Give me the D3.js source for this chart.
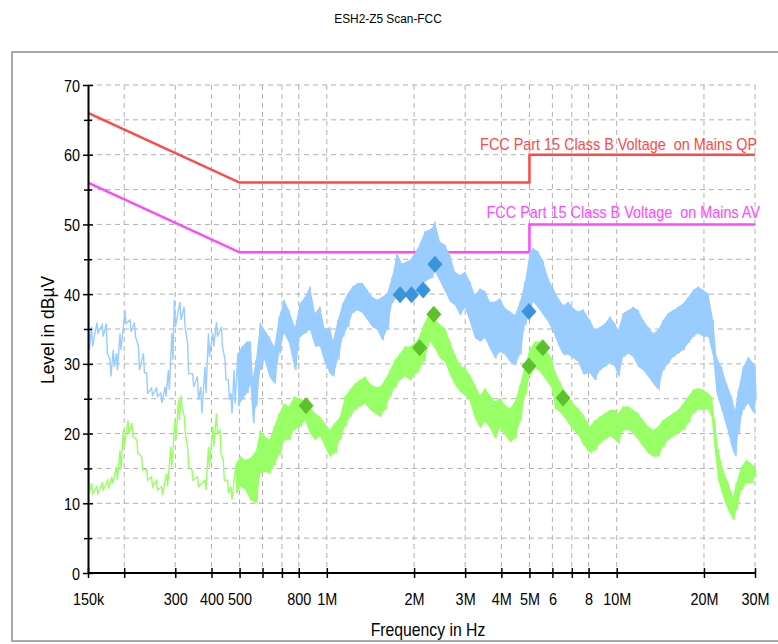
<!DOCTYPE html>
<html>
<head>
<meta charset="utf-8">
<script src="https://cdn.jsdelivr.net/npm/d3@7/dist/d3.min.js"></script>
<style>
body { margin: 0; background: #fff; }
text { font-family: "Liberation Sans", Arial, sans-serif; }
</style>
</head>
<body>
<svg id="chart"></svg>
<script>
var w = 778
var h = 644

// axis ticks (MHz)
var xTicks = [0.15, 0.2, 0.3, 0.4, 0.5, 0.6, 0.7, 0.8, 1, 2, 3, 4, 5, 6, 7, 8, 10, 20, 30]
var xTickLabels = ["150k", "", "300", "400", "500", "", "", "800", "1M", "2M", "3M", "4M", "5M", "6", "", "8", "10M", "20M", "30M"]
var yTicks = [0, 5, 10, 15, 20, 25, 30, 35, 40, 45, 50, 55, 60, 65, 70]

// limit lines
var limitFreq = [0.15, 0.5, 5, 5, 30]
var qpLimit = [66, 56, 56, 60, 60]
var avLimit = [56, 46, 46, 50, 50]

// peak trace (blue), min / max per sample
var peakFreq = [0.1504, 0.1544, 0.161, 0.168, 0.1735, 0.1786, 0.1833, 0.188, 0.1934, 0.2013, 0.2094, 0.217, 0.224, 0.233, 0.239, 0.2485, 0.2585, 0.2675, 0.2766, 0.284, 0.292, 0.298, 0.3115, 0.3217, 0.331, 0.3445, 0.358, 0.3676, 0.38, 0.3905, 0.404, 0.416, 0.433, 0.4453, 0.4575, 0.467, 0.4785, 0.4935, 0.51, 0.5305, 0.545, 0.556, 0.5693, 0.5893, 0.6094, 0.6333, 0.6584, 0.685, 0.712, 0.7405, 0.776, 0.808, 0.841, 0.875, 0.91, 0.947, 0.985, 1.024, 1.05, 1.092, 1.135, 1.18, 1.227, 1.276, 1.327, 1.38, 1.435, 1.492, 1.552, 1.614, 1.679, 1.746, 1.816, 1.936, 2.055, 2.181, 2.3, 2.361, 2.457, 2.556, 2.66, 2.768, 2.88, 2.996, 3.117, 3.243, 3.375, 3.512, 3.654, 3.801, 3.955, 4.116, 4.284, 4.457, 4.638, 4.825, 5.02, 5.15, 5.36, 5.58, 5.8, 6.04, 6.29, 6.54, 6.81, 7.08, 7.37, 7.67, 8.085, 8.41, 8.75, 9.11, 9.48, 9.86, 10.12, 10.53, 10.96, 11.4, 11.86, 12.34, 12.84, 13.36, 13.9, 14.46, 15.05, 15.66, 16.3, 16.96, 17.65, 18.36, 19.1, 19.88, 20.68, 21.52, 22.1, 23.0, 23.94, 24.9, 25.6, 26.27, 27.3, 28.45, 29.6, 30]
var peakHi = [41.3, 35.3, 35.9, 35.6, 35.8, 30.6, 32, 31.5, 34.4, 37.7, 36.3, 35.9, 32.5, 31.5, 28.7, 26.5, 26.5, 25.8, 26.7, 29.1, 34.4, 39.2, 38.9, 38.2, 32.9, 28.6, 28.2, 26.7, 29.6, 34.4, 34.4, 36, 35.3, 30.6, 27.7, 25.8, 29.1, 31.5, 32.5, 33.2, 33.2, 28, 30.6, 35.9, 34.9, 33.9, 32.5, 36.8, 39.2, 37.7, 35.3, 38.7, 39.6, 41.1, 37.3, 38.2, 34.9, 35.3, 33.4, 36.3, 38.7, 40.1, 41.1, 41.6, 41.6, 40.6, 39.6, 39.2, 39.6, 40.1, 42.5, 45.9, 44.4, 44.9, 46.5, 49, 49.4, 50.4, 47.5, 47.1, 45.6, 43.2, 42.7, 43.2, 41.8, 39.9, 40.8, 40.4, 38.9, 38.9, 39.4, 38, 37.5, 37, 38.9, 41.8, 46.1, 46.6, 46.1, 44.7, 42.3, 40.8, 39.4, 38.4, 38.9, 38, 37.5, 37.8, 36.3, 34.9, 35.3, 35.8, 36.8, 35.8, 34.9, 37.3, 37.7, 38.2, 37.7, 36.3, 35.3, 34.4, 34.9, 36.3, 37.3, 37.7, 38.2, 38.7, 39.6, 40.6, 41.1, 40.6, 40.1, 36.3, 31, 29.6, 27.2, 25.3, 23.4, 26.3, 29.6, 31, 30.1, 29.6]
var peakLo = [32, 32.5, 34.4, 33.9, 31.5, 28.2, 29.6, 29.1, 32, 35.8, 34.6, 33.9, 29.1, 28.7, 25.8, 25.5, 25.3, 24.4, 25.3, 26.3, 30.6, 35.3, 36.3, 35.3, 28.6, 26.7, 24.8, 22.9, 25.8, 31, 32.5, 33.9, 32.5, 27.7, 24.8, 22.9, 24.3, 23.9, 24.8, 25.8, 27, 21.5, 23.9, 29.1, 30.6, 28.2, 27.2, 31.5, 34.4, 33, 29.1, 33.9, 34.4, 34.9, 32.5, 32.5, 30.1, 28.6, 28.2, 30.6, 33.9, 35.3, 37.3, 37.7, 37.3, 36.3, 35.3, 34.9, 33.4, 34.9, 38.7, 39.6, 39.6, 39.6, 40.3, 41.8, 42.3, 43.2, 41.8, 40.4, 38.9, 38.4, 37, 38, 36, 33.7, 33.2, 33.7, 32.2, 30.8, 31.7, 31.3, 30.3, 29.8, 31.3, 35.6, 37, 38.9, 38, 37, 36, 34.6, 32.7, 31.3, 31.3, 30.8, 30.3, 28.5, 28.6, 27.7, 29.1, 29.6, 30.1, 29.6, 28.2, 31, 31.5, 31, 29.6, 29.1, 28.2, 27.2, 26.3, 29.1, 30.1, 31, 31.5, 32, 33, 33.9, 34.4, 33.9, 33.9, 31, 25.8, 23.4, 21, 18.1, 16.7, 20, 23.4, 24.3, 22.9, 24.8]

// average trace (green), min / max per sample
var avgFreq = [0.1504, 0.1544, 0.161, 0.168, 0.1754, 0.1811, 0.188, 0.1934, 0.1986, 0.206, 0.2126, 0.221, 0.2297, 0.239, 0.2485, 0.2585, 0.269, 0.28, 0.2895, 0.2994, 0.3077, 0.314, 0.3224, 0.331, 0.3426, 0.358, 0.38, 0.3905, 0.404, 0.416, 0.428, 0.4395, 0.4545, 0.467, 0.4865, 0.5035, 0.5235, 0.5445, 0.5693, 0.5893, 0.6094, 0.6333, 0.6584, 0.685, 0.712, 0.7405, 0.7695, 0.808, 0.841, 0.875, 0.91, 0.947, 0.985, 1.024, 1.067, 1.11, 1.155, 1.202, 1.25, 1.3, 1.354, 1.409, 1.466, 1.525, 1.587, 1.651, 1.719, 1.788, 1.861, 1.936, 2.055, 2.16, 2.269, 2.361, 2.457, 2.556, 2.66, 2.768, 2.88, 2.996, 3.117, 3.243, 3.375, 3.512, 3.654, 3.801, 3.955, 4.116, 4.284, 4.457, 4.638, 4.825, 5.02, 5.224, 5.436, 5.656, 5.976, 6.123, 6.37, 6.63, 6.99, 7.37, 7.67, 8.085, 8.41, 8.75, 9.11, 9.48, 9.86, 10.12, 10.53, 10.96, 11.4, 11.86, 12.34, 12.84, 13.36, 13.9, 14.46, 15.05, 15.66, 16.3, 16.96, 17.65, 18.36, 19.1, 19.88, 20.68, 21.24, 21.8, 22.4, 23.3, 24.25, 25.2, 25.85, 26.9, 28.0, 29.1, 30]
var avgHi = [25.8, 12.9, 12.4, 12.9, 13.3, 13.8, 15.2, 17.6, 20.5, 21.9, 21.5, 19.1, 16.7, 14.8, 13.8, 13.3, 12.4, 14.3, 18.1, 21.9, 24.8, 25.5, 22.4, 18.1, 14.8, 13.8, 13.3, 18.1, 21, 22.9, 20.5, 16.2, 13.3, 12.4, 15.7, 16.7, 16.2, 16.5, 17.5, 20.5, 19.6, 19.1, 21, 22.9, 24.3, 23.9, 25.3, 25, 24.8, 23.9, 22.9, 22.4, 21.5, 20.5, 21.5, 22.4, 25.3, 26.3, 27.2, 27.7, 28.2, 27.2, 26.7, 26.7, 27.7, 29.1, 30.6, 31.5, 32.5, 32.5, 33.4, 35.6, 37.5, 36.5, 35.6, 35.1, 33.2, 31.3, 29.8, 29.4, 28.4, 27, 25.5, 26.5, 25.5, 24.6, 25.1, 24.1, 23.6, 24.6, 27, 29.8, 32.2, 33.2, 33.2, 32.2, 30.8, 28.9, 27.4, 26, 24.6, 23.6, 22.7, 21, 21.9, 22.4, 22.9, 23.4, 23.4, 22.9, 23.9, 23.9, 23.4, 22.9, 21.9, 21, 20.5, 21, 21.9, 22.4, 22.9, 23.4, 24.3, 25.3, 26.3, 26.5, 26.3, 25.8, 25.3, 21.9, 17.6, 14.8, 12.9, 10.9, 12.9, 15.2, 16.2, 15.7, 15.2]
var avgLo = [11.4, 11.4, 11.4, 11.9, 12.1, 12.9, 13.3, 14.8, 18.1, 20, 19.6, 17.2, 14.8, 13.3, 12.4, 11.9, 11.2, 12.4, 15.2, 19.1, 21.9, 23.9, 20, 15.2, 13.3, 12.4, 11.9, 15.2, 18.1, 20, 17.2, 13.3, 11.4, 10.5, 11.4, 12.4, 11.9, 10.5, 10, 14.3, 14.5, 14.3, 15.5, 17, 19, 19.1, 20.5, 21, 21.9, 20, 19.1, 19.6, 18.1, 16.7, 17.2, 19.1, 21, 22.4, 23.4, 23.9, 24.3, 23.4, 22.9, 22.4, 23.4, 25.3, 26.7, 27.7, 28.2, 27.7, 28.8, 30.3, 33.2, 32.2, 30.8, 30.3, 28.4, 27, 26, 25.5, 24.6, 22.2, 20.8, 21.7, 20.8, 19.3, 20.8, 19.8, 18.8, 19.3, 21.7, 25.5, 28.4, 29.4, 28.9, 27.9, 26.5, 23.6, 23.1, 22.2, 20.8, 19.8, 18.4, 17.2, 17.6, 18.6, 19.1, 19.6, 19.1, 18.6, 20.5, 20.5, 20, 19.1, 18.1, 17.2, 16.7, 16.7, 18.1, 19.1, 19.6, 20, 20.5, 21.5, 22.9, 23.4, 23.4, 23.4, 22.4, 17.6, 13.3, 10.9, 9, 7.6, 9, 11.9, 12.9, 12.9, 13.8]

// final measurement markers
var peakMarkFreq = [1.79, 1.96, 2.15, 2.36, 4.98]
var peakMarkLevel = [39.9, 39.9, 40.6, 44.3, 37.5]
var avgMarkFreq = [0.848, 2.09, 2.34, 4.98, 5.56, 6.53]
var avgMarkLevel = [24.0, 32.3, 37.1, 29.7, 32.3, 25.1]

var denseFrom = 0.48   // above this the scan is drawn as a filled band

var svg = d3.select("#chart")
	.attr("width", w)
	.attr("height", h)
	.style("background-color", "white")

var x = d3.scaleLog().domain([0.15, 30]).range([88, 755])
var y = d3.scaleLinear().domain([0, 70]).range([573, 85])

var narrow = 0.9

// outer panel
svg.append("rect")
	.attr("x", 12).attr("y", 52)
	.attr("width", 800).attr("height", 589)
	.attr("fill", "none")
	.attr("stroke", "#a8a8a8")
	.attr("stroke-width", 2)

svg.append("text")
	.attr("transform", "translate(388,23) scale(0.88,1)")
	.attr("text-anchor", "middle")
	.style("font-size", "13.5px")
	.text("ESH2-Z5 Scan-FCC")

// grid
var grid = svg.append("g")
	.attr("stroke", "#b0b0b0")
	.attr("stroke-width", 1)
	.attr("stroke-dasharray", "5,4")

grid.selectAll(".vg")
	.data(xTicks.slice(1))
	.join("line")
	.attr("x1", function(d){ return x(d) })
	.attr("x2", function(d){ return x(d) })
	.attr("y1", y(70))
	.attr("y2", y(0))

grid.selectAll(".hg")
	.data(yTicks.slice(1))
	.join("line")
	.attr("x1", x(0.15))
	.attr("x2", x(30))
	.attr("y1", function(d){ return y(d) })
	.attr("y2", function(d){ return y(d) })

// limits
var limitLine = d3.line()
	.x(function(d, i){ return x(limitFreq[i]) })
	.y(function(d){ return y(d) })

svg.append("path")
	.attr("d", limitLine(qpLimit))
	.attr("fill", "none")
	.attr("stroke", "#ff4848")
	.attr("stroke-width", 2.5)

svg.append("path")
	.attr("d", limitLine(avLimit))
	.attr("fill", "none")
	.attr("stroke", "#ff48ff")
	.attr("stroke-width", 2.5)

svg.append("text")
	.attr("transform", "translate(757,150) scale(" + narrow + ",1)")
	.attr("text-anchor", "end")
	.attr("fill", "#ff4848")
	.style("font-size", "16px")
	.style("white-space", "pre")
	.attr("xml:space", "preserve")
	.text("FCC Part 15 Class B Voltage  on Mains QP")

svg.append("text")
	.attr("transform", "translate(760,218) scale(" + narrow + ",1)")
	.attr("text-anchor", "end")
	.attr("fill", "#ff48ff")
	.style("font-size", "16px")
	.style("white-space", "pre")
	.attr("xml:space", "preserve")
	.text("FCC Part 15 Class B Voltage  on Mains AV")

// scan traces
function drawScan(freq, hi, lo, color){
	var pts = freq.map(function(f, i){ return {f: f, hi: hi[i], lo: lo[i]} })
	var dense = pts.filter(function(p){ return p.f >= denseFrom })

	var band = d3.area()
		.x(function(p){ return x(p.f) })
		.y0(function(p){ return y(p.lo) })
		.y1(function(p){ return y(p.hi) })

	svg.append("path")
		.attr("d", band(dense))
		.attr("fill", color)

	// min/max zigzag, one vertical stroke per sample
	var zig = []
	pts.forEach(function(p){
		zig.push([x(p.f), y(p.hi)])
		zig.push([x(p.f) + 1, y(p.lo)])
	})
	svg.append("path")
		.attr("d", d3.line()(zig))
		.attr("fill", "none")
		.attr("stroke", color)
		.attr("stroke-width", 1.4)
}

drawScan(avgFreq, avgHi, avgLo, "#99ff66")
drawScan(peakFreq, peakHi, peakLo, "#99ccff")

// markers: diamonds slightly taller than wide
function diamond(){
	return "M0,-8.5L7.5,0L0,8.5L-7.5,0Z"
}

svg.selectAll(".pk")
	.data(peakMarkFreq)
	.join("path")
	.attr("d", diamond)
	.attr("transform", function(d, i){ return "translate(" + x(d) + "," + y(peakMarkLevel[i]) + ")" })
	.attr("fill", "#3a94dc")

svg.selectAll(".av")
	.data(avgMarkFreq)
	.join("path")
	.attr("d", diamond)
	.attr("transform", function(d, i){ return "translate(" + x(d) + "," + y(avgMarkLevel[i]) + ")" })
	.attr("fill", "#5cc12c")

// axes
var xAxis = svg.append("g")
	.attr("transform", "translate(0," + y(0) + ")")
	.call(d3.axisBottom(x).tickValues(xTicks).tickFormat(function(d, i){ return xTickLabels[i] }).tickSizeOuter(0))

var yAxis = svg.append("g")
	.attr("transform", "translate(" + x(0.15) + ",0)")
	.call(d3.axisLeft(y).tickValues(yTicks).tickFormat(function(d){ return d % 10 == 0 ? d : "" }).tickSizeOuter(0))

xAxis.select(".domain").attr("stroke-width", 2).attr("d", "M" + x(0.15) + ",0H" + x(30))
yAxis.select(".domain").attr("stroke-width", 2)

xAxis.selectAll(".tick line").attr("y1", -5).attr("y2", 5).attr("stroke-width", 1.5)
yAxis.selectAll(".tick line")
	.attr("x1", function(d){ return d % 10 == 0 ? 5 : 4 })
	.attr("x2", function(d){ return d % 10 == 0 ? -5 : -4 })
	.attr("stroke-width", 1.5)

xAxis.selectAll(".tick text")
	.attr("y", null).attr("dy", null)
	.attr("transform", "translate(0,32) scale(" + narrow + ",1)")
	.style("font-size", "16px")
	.attr("fill", "black")

yAxis.selectAll(".tick text")
	.attr("x", null).attr("dy", null)
	.attr("transform", "translate(-8,6) scale(" + narrow + ",1)")
	.style("font-size", "16px")
	.attr("fill", "black")

svg.selectAll(".tick text").style("font-family", "'Liberation Sans', Arial, sans-serif")

svg.append("text")
	.attr("transform", "translate(428,636) scale(" + narrow + ",1)")
	.attr("text-anchor", "middle")
	.style("font-size", "17.5px")
	.text("Frequency in Hz")

svg.append("text")
	.attr("transform", "translate(54,330) rotate(-90) scale(0.92,1)")
	.attr("text-anchor", "middle")
	.style("font-size", "19px")
	.text("Level in dBµV")
</script>
</body>
</html>
